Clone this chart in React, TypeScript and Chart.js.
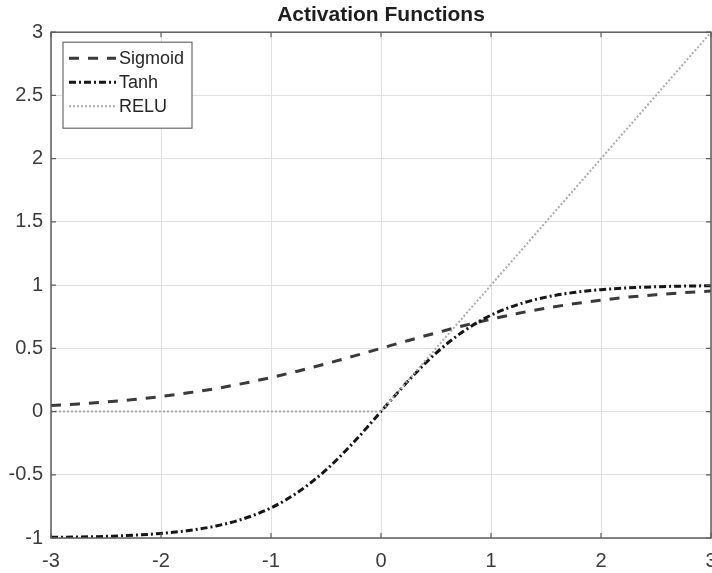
import React, { useEffect, useRef } from "react";
import { Chart, registerables } from "chart.js";

Chart.register(...registerables);

// Sample positions along the input axis
const xValues = [
  -3, -2.75, -2.5, -2.25, -2, -1.75, -1.5, -1.25, -1, -0.75, -0.5, -0.25, 0,
  0.25, 0.5, 0.75, 1, 1.25, 1.5, 1.75, 2, 2.25, 2.5, 2.75, 3,
];

const sigmoidValues = [
  0.047, 0.06, 0.076, 0.095, 0.119, 0.148, 0.182, 0.223, 0.269, 0.321, 0.378,
  0.438, 0.5, 0.562, 0.622, 0.679, 0.731, 0.777, 0.818, 0.852, 0.881, 0.905,
  0.924, 0.94, 0.953,
];

const tanhValues = [
  -0.995, -0.992, -0.987, -0.978, -0.964, -0.941, -0.905, -0.848, -0.762,
  -0.635, -0.462, -0.245, 0, 0.245, 0.462, 0.635, 0.762, 0.848, 0.905, 0.941,
  0.964, 0.978, 0.987, 0.992, 0.995,
];

const reluValues = [
  0, 0, 0, 0, 0, 0, 0, 0, 0, 0, 0, 0, 0, 0.25, 0.5, 0.75, 1, 1.25, 1.5, 1.75,
  2, 2.25, 2.5, 2.75, 3,
];

const seriesNames = ["Sigmoid", "Tanh", "RELU"];
const xTicks = [-3, -2, -1, 0, 1, 2, 3];
const yTicks = [-1, -0.5, 0, 0.5, 1, 1.5, 2, 2.5, 3];
const titleText = "Activation Functions";

const FONT = "'Liberation Sans', Arial, Helvetica, sans-serif";
const FRAME_COLOR = "#5e5e5e";

const toPoints = (ys: number[]) => xValues.map((x, i) => ({ x, y: ys[i] }));

// Box around the axes with short inward tick marks on all four sides
const axesFrame = {
  id: "axesFrame",
  afterDatasetsDraw(chart: any) {
    const { ctx, chartArea: a, scales } = chart;
    ctx.save();
    ctx.strokeStyle = FRAME_COLOR;
    ctx.lineWidth = 1.5;
    ctx.strokeRect(a.left, a.top, a.right - a.left, a.bottom - a.top);
    ctx.lineWidth = 1.2;
    const len = 5;
    ctx.beginPath();
    for (const v of xTicks) {
      const px = scales.x.getPixelForValue(v);
      ctx.moveTo(px, a.bottom);
      ctx.lineTo(px, a.bottom - len);
      ctx.moveTo(px, a.top);
      ctx.lineTo(px, a.top + len);
    }
    for (const v of yTicks) {
      const py = scales.y.getPixelForValue(v);
      ctx.moveTo(a.left, py);
      ctx.lineTo(a.left + len, py);
      ctx.moveTo(a.right, py);
      ctx.lineTo(a.right - len, py);
    }
    ctx.stroke();
    ctx.restore();
  },
};

// Boxed legend in the upper-left corner of the plot area
const insetLegend = {
  id: "insetLegend",
  afterDraw(chart: any) {
    const { ctx, chartArea: a } = chart;
    const left = a.left + 12;
    const top = a.top + 10;
    const w = 129;
    const h = 86;
    ctx.save();
    ctx.fillStyle = "#ffffff";
    ctx.fillRect(left, top, w, h);
    ctx.strokeStyle = "#6a6a6a";
    ctx.lineWidth = 1.2;
    ctx.strokeRect(left, top, w, h);
    chart.data.datasets.forEach((ds: any, i: number) => {
      const y = top + 16 + i * 24;
      ctx.beginPath();
      ctx.setLineDash(ds.borderDash || []);
      ctx.strokeStyle = ds.borderColor;
      ctx.lineWidth = ds.borderWidth;
      ctx.moveTo(left + 6, y);
      ctx.lineTo(left + 53, y);
      ctx.stroke();
      ctx.setLineDash([]);
      ctx.fillStyle = "#262626";
      ctx.font = `18px ${FONT}`;
      ctx.textAlign = "left";
      ctx.textBaseline = "middle";
      ctx.fillText(ds.label, left + 56, y + 1);
    });
    ctx.restore();
  },
};

// Keep the plot box fixed: no extra room reserved for edge tick labels
const noEdgePadding = (s: any) => {
  s.paddingLeft = 0;
  s.paddingRight = 0;
  s.paddingTop = 0;
  s.paddingBottom = 0;
};

export default function App() {
  const canvasRef = useRef<HTMLCanvasElement | null>(null);

  useEffect(() => {
    if (!canvasRef.current) return;
    const chart = new Chart(canvasRef.current, {
      type: "line",
      data: {
        datasets: [
          {
            label: seriesNames[0],
            data: toPoints(sigmoidValues),
            borderColor: "#3a3a3a",
            borderWidth: 3,
            borderDash: [10, 9],
            pointRadius: 0,
            cubicInterpolationMode: "monotone",
            order: 2,
          },
          {
            label: seriesNames[1],
            data: toPoints(tanhValues),
            borderColor: "#161616",
            borderWidth: 3,
            borderDash: [7, 3, 2, 3],
            pointRadius: 0,
            cubicInterpolationMode: "monotone",
            order: 1,
          },
          {
            label: seriesNames[2],
            data: toPoints(reluValues),
            borderColor: "#ababab",
            borderWidth: 2,
            borderDash: [2, 2],
            pointRadius: 0,
            order: 0,
          },
        ],
      },
      options: {
        responsive: false,
        animation: false,
        devicePixelRatio: 1,
        layout: { autoPadding: false, padding: { left: 0, right: 1, top: 0, bottom: 0 } },
        plugins: {
          legend: { display: false },
          tooltip: { enabled: false },
          title: {
            display: true,
            text: titleText,
            fullSize: false,
            color: "#1e1e1e",
            font: { family: FONT, size: 21, weight: "bold" },
            padding: { top: 3, bottom: 4 },
          },
        },
        scales: {
          x: {
            type: "linear",
            min: -3,
            max: 3,
            afterBuildTicks: (s: any) => {
              s.ticks = xTicks.map((value) => ({ value }));
            },
            afterFit: (s: any) => {
              s.height = 35;
              noEdgePadding(s);
            },
            grid: { color: "#e0e0e0", lineWidth: 1, drawTicks: false },
            border: { display: false },
            ticks: {
              autoSkip: false,
              maxRotation: 0,
              padding: 11,
              color: "#3c3c3c",
              font: { family: FONT, size: 20 },
              callback: (v: any) => String(v),
            },
          },
          y: {
            type: "linear",
            min: -1,
            max: 3,
            afterBuildTicks: (s: any) => {
              s.ticks = yTicks.map((value) => ({ value }));
            },
            afterFit: (s: any) => {
              s.width = 51;
              noEdgePadding(s);
            },
            grid: { color: "#e0e0e0", lineWidth: 1, drawTicks: false },
            border: { display: false },
            ticks: {
              autoSkip: false,
              padding: 8,
              color: "#3c3c3c",
              font: { family: FONT, size: 20 },
              callback: (v: any) => String(v),
            },
          },
        },
      },
      plugins: [axesFrame, insetLegend],
    });
    return () => chart.destroy();
  }, []);

  return (
    <div style={{ position: "fixed", left: 0, top: 0, width: 712, height: 573, background: "#ffffff" }}>
      <canvas ref={canvasRef} width={712} height={573} />
    </div>
  );
}
